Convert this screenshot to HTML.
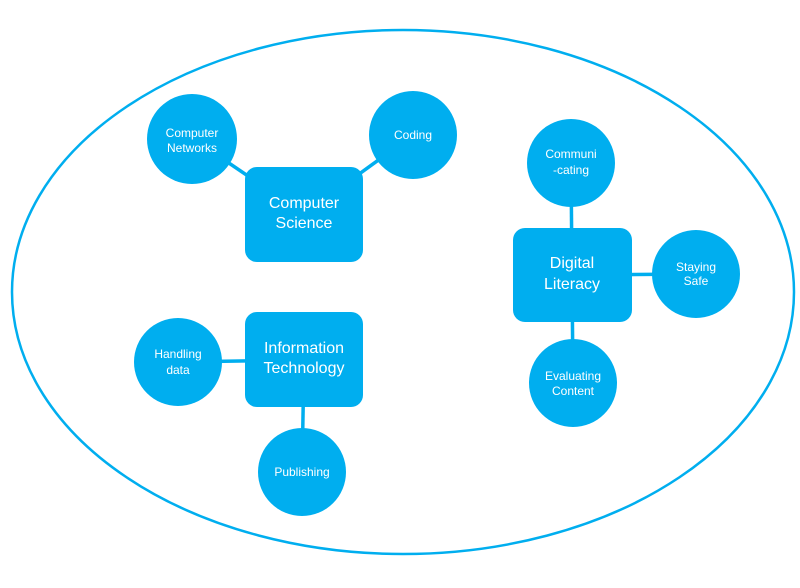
<!DOCTYPE html>
<html><head><meta charset="utf-8"><style>
html,body{margin:0;padding:0;background:#fff;width:800px;height:588px;overflow:hidden}
svg text{font-family:"Liberation Sans",sans-serif;fill:#fff;text-anchor:middle}
</style></head><body>
<svg width="800" height="588" viewBox="0 0 800 588">
<ellipse cx="403" cy="292" rx="391" ry="262" fill="none" stroke="#00AEEF" stroke-width="2.5"/>
<g stroke="#00AEEF" stroke-width="3.5">
<line x1="192" y1="138" x2="304" y2="214"/>
<line x1="413" y1="135" x2="304" y2="214"/>
<line x1="571" y1="163" x2="572" y2="275"/>
<line x1="572" y1="275" x2="696" y2="274"/>
<line x1="572" y1="275" x2="573" y2="383"/>
<line x1="178" y1="362" x2="304" y2="360"/>
<line x1="304" y1="360" x2="302" y2="472"/>
</g>
<g fill="#00AEEF">
<circle cx="192" cy="139" r="45"/>
<circle cx="413" cy="135" r="44"/>
<rect x="245" y="167" width="118" height="95" rx="12"/>
<circle cx="571" cy="163" r="44"/>
<rect x="513" y="228" width="119" height="94" rx="12"/>
<circle cx="696" cy="274" r="44"/>
<circle cx="573" cy="383" r="44"/>
<rect x="245" y="312" width="118" height="95" rx="12"/>
<circle cx="178" cy="362" r="44"/>
<circle cx="302" cy="472" r="44"/>
</g>
<g font-size="12">
<text x="192" y="137">Computer</text><text x="192" y="152">Networks</text>
<text x="413" y="139">Coding</text>
<text x="571" y="158">Communi</text><text x="571" y="174">-cating</text>
<text x="696" y="271">Staying</text><text x="696" y="285">Safe</text>
<text x="573" y="380">Evaluating</text><text x="573" y="395">Content</text>
<text x="178" y="358">Handling</text><text x="178" y="374">data</text>
<text x="302" y="476">Publishing</text>
</g>
<g font-size="16">
<text x="304" y="208">Computer</text><text x="304" y="228">Science</text>
<text x="572" y="268">Digital</text><text x="572" y="289">Literacy</text>
<text x="304" y="353">Information</text><text x="304" y="373">Technology</text>
</g>
</svg>
</body></html>
